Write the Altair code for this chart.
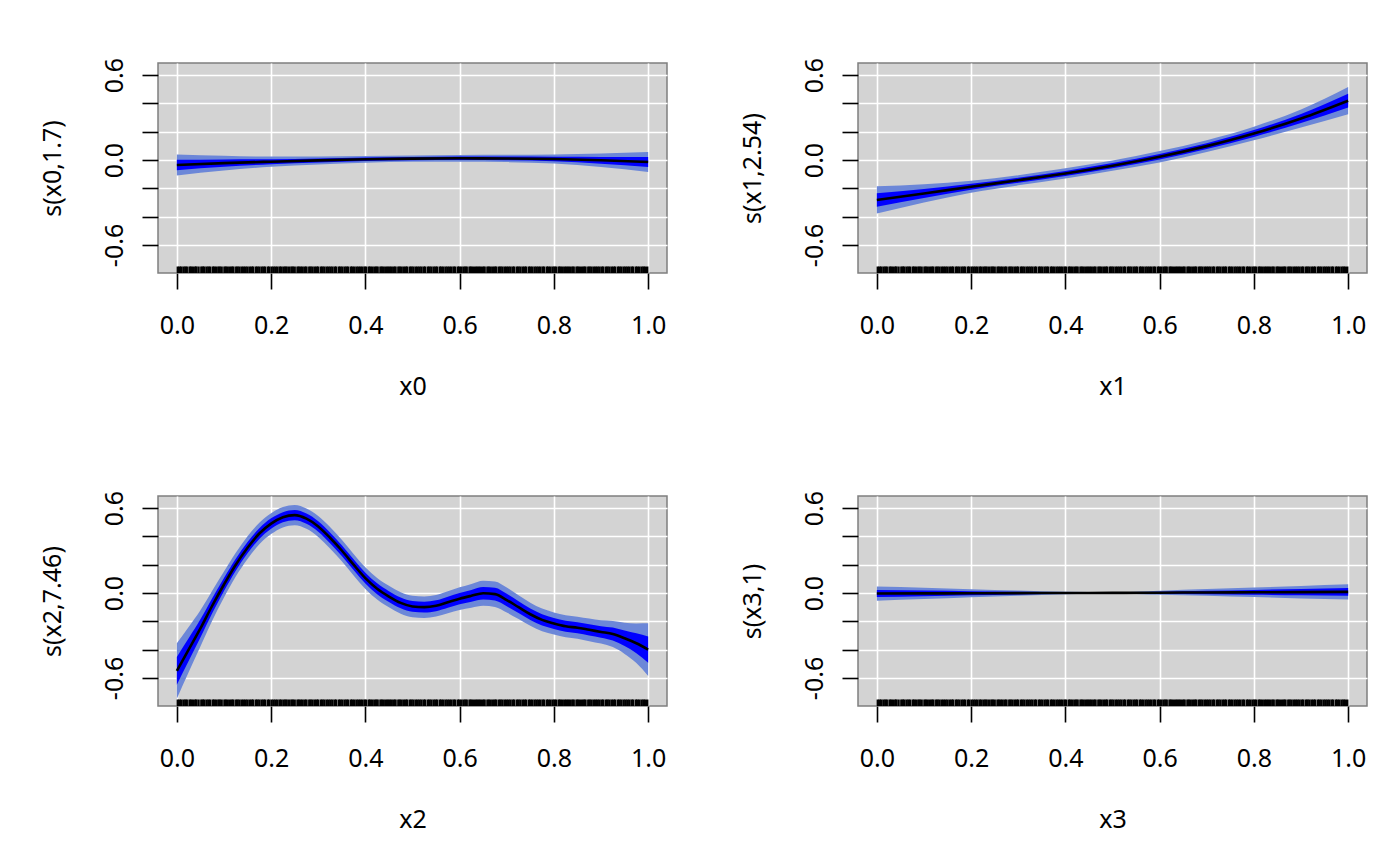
import altair as alt
import pandas as pd

# ---------------- data ----------------
x_coarse = [0.0, 0.1, 0.2, 0.3, 0.4, 0.5, 0.6, 0.7, 0.8, 0.9, 1.0]

fit0 = [-0.035, -0.022, -0.012, -0.003, 0.005, 0.010, 0.012, 0.011, 0.007, -0.002, -0.014]
se0 = [0.037, 0.026, 0.018, 0.014, 0.012, 0.011, 0.012, 0.013, 0.016, 0.024, 0.035]

fit1 = [-0.282, -0.236, -0.189, -0.143, -0.095, -0.040, 0.023, 0.098, 0.187, 0.293, 0.419]
se1 = [0.048, 0.032, 0.021, 0.018, 0.018, 0.018, 0.020, 0.021, 0.024, 0.032, 0.048]

x_fine = [0.0, 0.025, 0.05, 0.075, 0.1, 0.125, 0.15, 0.175, 0.2, 0.225,
          0.25, 0.275, 0.3, 0.325, 0.35, 0.375, 0.4, 0.425, 0.45, 0.475,
          0.5, 0.525, 0.55, 0.575, 0.6, 0.625, 0.65, 0.675, 0.7, 0.725,
          0.75, 0.775, 0.8, 0.825, 0.85, 0.875, 0.9, 0.925, 0.95, 0.975, 1.0]
fit2 = [-0.55, -0.40, -0.25, -0.09, 0.06, 0.20, 0.32, 0.42, 0.49, 0.535,
        0.55, 0.525, 0.47, 0.39, 0.30, 0.20, 0.105, 0.03, -0.025, -0.07,
        -0.095, -0.10, -0.09, -0.065, -0.04, -0.02, -0.002, -0.008, -0.05, -0.10,
        -0.15, -0.19, -0.215, -0.235, -0.245, -0.26, -0.275, -0.29, -0.32, -0.355, -0.40]
se2 = [0.098, 0.080, 0.064, 0.053, 0.046, 0.042, 0.040, 0.038, 0.037, 0.036,
       0.036, 0.036, 0.037, 0.038, 0.038, 0.038, 0.038, 0.038, 0.038, 0.038,
       0.038, 0.038, 0.038, 0.039, 0.040, 0.042, 0.044, 0.045, 0.044, 0.042,
       0.041, 0.040, 0.039, 0.039, 0.039, 0.040, 0.041, 0.046, 0.055, 0.070, 0.093]

fit3 = [-0.004, -0.003, -0.002, -0.001, 0.000, 0.001, 0.002, 0.004, 0.005, 0.006, 0.008]
se3 = [0.025, 0.020, 0.014, 0.009, 0.004, 0.002, 0.007, 0.012, 0.017, 0.022, 0.027]

rug_x = [0.002, 0.006, 0.009, 0.014, 0.018, 0.021, 0.027, 0.030, 0.034, 0.039, 0.041, 0.046,
         0.052, 0.055, 0.058, 0.063, 0.067, 0.070, 0.076, 0.079, 0.083, 0.088, 0.091, 0.095,
         0.101, 0.104, 0.108, 0.113, 0.117, 0.120, 0.126, 0.129, 0.133, 0.138, 0.142, 0.146,
         0.150, 0.155, 0.159, 0.162, 0.168, 0.171, 0.175, 0.180, 0.184, 0.187, 0.193, 0.196,
         0.201, 0.205, 0.209, 0.213, 0.218, 0.221, 0.226, 0.230, 0.233, 0.238, 0.243, 0.246,
         0.250, 0.256, 0.259, 0.263, 0.267, 0.272, 0.275, 0.281, 0.284, 0.288, 0.293, 0.297,
         0.300, 0.306, 0.309, 0.313, 0.318, 0.322, 0.326, 0.330, 0.335, 0.338, 0.344, 0.347,
         0.351, 0.356, 0.360, 0.363, 0.369, 0.372, 0.376, 0.381, 0.385, 0.389, 0.393, 0.398,
         0.401, 0.407, 0.410, 0.414, 0.419, 0.423, 0.426, 0.432, 0.435, 0.439, 0.444, 0.448,
         0.452, 0.456, 0.461, 0.464, 0.470, 0.473, 0.477, 0.482, 0.486, 0.489, 0.495, 0.498,
         0.502, 0.507, 0.511, 0.515, 0.519, 0.524, 0.527, 0.533, 0.536, 0.540, 0.545, 0.549,
         0.552, 0.558, 0.561, 0.565, 0.570, 0.574, 0.578, 0.582, 0.587, 0.590, 0.596, 0.599,
         0.603, 0.608, 0.612, 0.615, 0.621, 0.624, 0.628, 0.633, 0.637, 0.641, 0.645, 0.650,
         0.653, 0.659, 0.662, 0.666, 0.671, 0.675, 0.678, 0.684, 0.687, 0.691, 0.696, 0.700,
         0.704, 0.708, 0.713, 0.716, 0.722, 0.725, 0.729, 0.734, 0.738, 0.741, 0.747, 0.750,
         0.754, 0.759, 0.763, 0.767, 0.771, 0.776, 0.779, 0.785, 0.788, 0.792, 0.797, 0.801,
         0.804, 0.810, 0.813, 0.817, 0.822, 0.826, 0.830, 0.834, 0.839, 0.842, 0.848, 0.851,
         0.855, 0.860, 0.864, 0.867, 0.873, 0.876, 0.880, 0.885, 0.889, 0.893, 0.897, 0.902,
         0.905, 0.911, 0.914, 0.918, 0.923, 0.927, 0.930, 0.936, 0.939, 0.943, 0.948, 0.952,
         0.956, 0.960, 0.965, 0.968, 0.974, 0.977, 0.981, 0.986, 0.990, 0.993, 0.998]

y_ticks = [-0.6, -0.4, -0.2, 0.0, 0.2, 0.4, 0.6]
x_ticks = [0.0, 0.2, 0.4, 0.6, 0.8, 1.0]

panels = [
    ("x0", "s(x0,1.7)", x_coarse, fit0, se0),
    ("x1", "s(x1,2.54)", x_coarse, fit1, se1),
    ("x2", "s(x2,7.46)", x_fine, fit2, se2),
    ("x3", "s(x3,1)", x_coarse, fit3, se3),
]

W, H = 509, 210
FONT = "Noto Sans"
OUTER = "#6C87D8"
INNER = "#0000FF"

xscale = alt.Scale(domain=[-0.04, 1.04], nice=False, zero=False)
yscale = alt.Scale(domain=[-0.798, 0.685], nice=False, zero=False)

ylabel_expr = ("abs(datum.value) < 1e-9 ? '0.0' : abs(datum.value - 0.6) < 1e-9 ? '0.6' : "
               "abs(datum.value + 0.6) < 1e-9 ? '-0.6' : ''")

rug_df = pd.DataFrame({"x": rug_x})


def panel(xname, yname, xs, fit, se):
    df = pd.DataFrame({
        "x": xs,
        "fit": fit,
        "lo1": [f - s for f, s in zip(fit, se)],
        "hi1": [f + s for f, s in zip(fit, se)],
        "lo2": [f - 2 * s for f, s in zip(fit, se)],
        "hi2": [f + 2 * s for f, s in zip(fit, se)],
    })
    xaxis = alt.Axis(values=x_ticks, format=".1f", title=xname, tickCount=20,
                     labelBaseline="alphabetic", labelPadding=44,
                     titleX=W / 2, titleY=121, titleAlign="center",
                     titleBaseline="alphabetic", titleAngle=0)
    yaxis = alt.Axis(values=y_ticks, labelExpr=ylabel_expr, title=yname, tickCount=20,
                     labelAngle=270, labelAlign="center", labelBaseline="alphabetic",
                     labelPadding=20, titleAngle=270, titleAlign="center",
                     titleBaseline="alphabetic", titleX=-98, titleY=H / 2)
    base = alt.Chart(df)
    outer = base.mark_area(color=OUTER, opacity=1, interpolate="monotone", clip=True).encode(
        x=alt.X("x:Q", scale=xscale, axis=xaxis),
        y=alt.Y("lo2:Q", scale=yscale, axis=yaxis),
        y2="hi2:Q",
    )
    inner = base.mark_area(color=INNER, opacity=1, interpolate="monotone", clip=True).encode(
        x="x:Q", y="lo1:Q", y2="hi1:Q"
    )
    line = base.mark_line(color="black", strokeWidth=2.6, interpolate="monotone", clip=True).encode(
        x="x:Q", y="fit:Q"
    )
    rug = alt.Chart(rug_df).mark_rule(color="black", strokeWidth=2.4).encode(
        x="x:Q", y=alt.value(H - 6.5), y2=alt.value(H)
    )
    return alt.layer(outer, inner, line, rug).properties(width=W, height=H)


p = [panel(*args) for args in panels]
chart = alt.concat(
    *p, columns=2, spacing={"row": 223, "column": 191}, bounds="flush"
).properties(
    padding={"left": 31, "top": 48, "right": 5, "bottom": 5},
    background="white",
).configure_view(
    fill="#D3D3D3", stroke="#7F7F7F", strokeWidth=1.5
).configure_axis(
    labelFont=FONT, titleFont=FONT, labelFontSize=25, titleFontSize=25,
    labelColor="black", titleColor="black", titleFontWeight="normal",
    tickColor="black", tickSize=16, tickWidth=1.6, domain=False,
    grid=True, gridColor="white", gridWidth=1.6,
    labelOverlap=False, labelFlush=False,
)

chart.save("out.html", embed_options={"renderer": "svg", "actions": False})
